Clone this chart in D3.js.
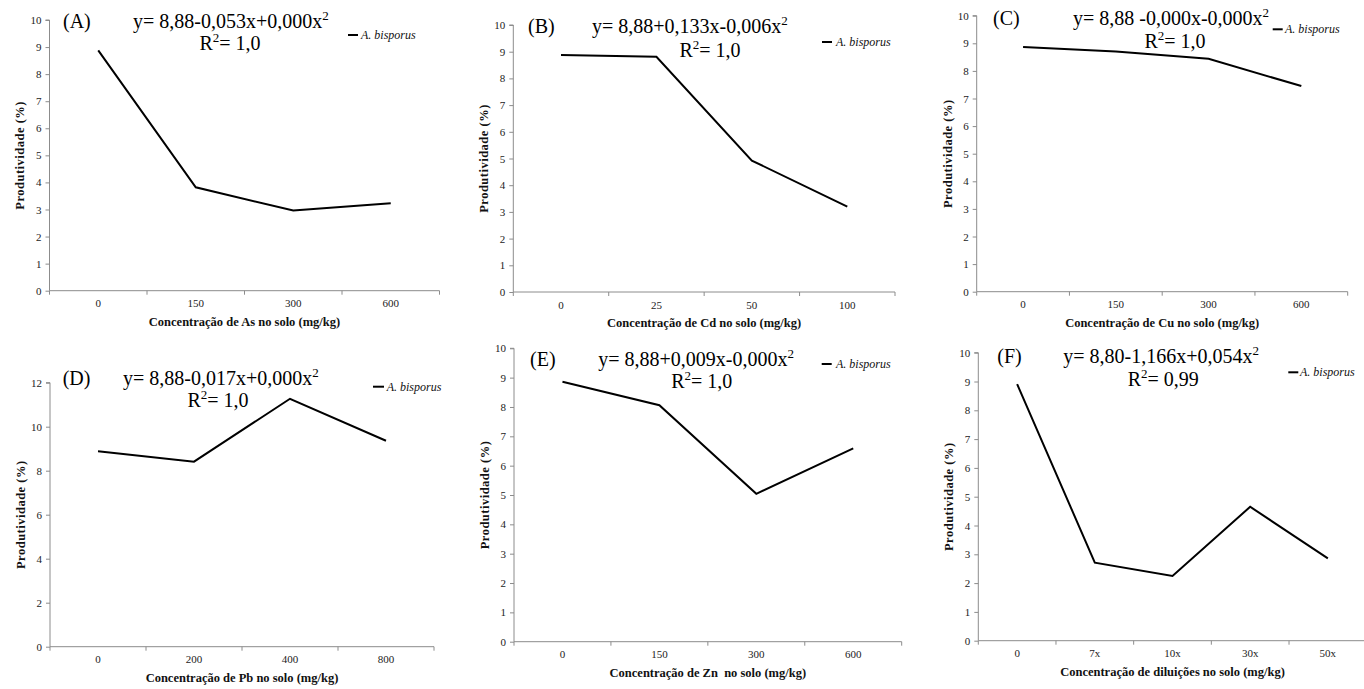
<!DOCTYPE html>
<html><head><meta charset="utf-8">
<script src="https://cdn.jsdelivr.net/npm/d3@7"></script>
<style>
html,body{margin:0;padding:0;background:#fff;}
svg{display:block;}
</style></head>
<body>
<svg id="chart" width="1364" height="689"></svg>
<script>
// ---- data ----
const categoriesA = ["0","150","300","600"];
const valuesA = [8.88, 3.82, 2.96, 3.23];
const categoriesB = ["0","25","50","100"];
const valuesB = [8.88, 8.81, 4.92, 3.20];
const categoriesC = ["0","150","300","600"];
const valuesC = [8.87, 8.70, 8.44, 7.45];
const categoriesD = ["0","200","400","800"];
const valuesD = [8.88, 8.41, 11.27, 9.36];
const categoriesE = ["0","150","300","600"];
const valuesE = [8.86, 8.06, 5.04, 6.59];
const categoriesF = ["0","7x","10x","30x","50x"];
const valuesF = [8.91, 2.71, 2.25, 4.65, 2.86];

const yMaxes = [10, 10, 10, 12, 10, 10];
const yStepsList = [1, 1, 1, 2, 1, 1];
const panelLabels = ["(A)","(B)","(C)","(D)","(E)","(F)"];
const equations = [
  "y= 8,88-0,053x+0,000x",
  "y= 8,88+0,133x-0,006x",
  "y= 8,88 -0,000x-0,000x",
  "y= 8,88-0,017x+0,000x",
  "y= 8,88+0,009x-0,000x",
  "y= 8,80-1,166x+0,054x"
];
const r2Values = ["= 1,0","= 1,0","= 1,0","= 1,0","= 1,0","= 0,99"];
const xTitles = [
  "Concentração de As no solo (mg/kg)",
  "Concentração de Cd no solo (mg/kg)",
  "Concentração de Cu no solo (mg/kg)",
  "Concentração de Pb no solo (mg/kg)",
  "Concentração de Zn  no solo (mg/kg)",
  "Concentração de diluições no solo (mg/kg)"
];
const yTitle = "Produtividade (%)";
const seriesName = "A. bisporus";

// ---- layout (positions only) ----
const layout = [
  {l:49.5, r:439.5, t:20,   b:290.7, lab:[63,28.3],   eq:[133,28.3],  r2:[230,50],    lg:[348,358,35,361,39]},
  {l:513.3,r:895,   t:25,   b:292,   lab:[528,33],    eq:[592,33],    r2:[710,57],    lg:[822,832,42,836,46]},
  {l:976.7,r:1347.7,t:15.7, b:291.7, lab:[993,25],    eq:[1073,25],   r2:[1175,47.7], lg:[1272.7,1282.7,29.3,1285,32.5]},
  {l:50,   r:434,   t:382.7,b:646.7, lab:[62.7,385],  eq:[123,385],   r2:[218,406.7], lg:[373,384,386.7,386.7,390.5]},
  {l:514,  r:901.7, t:348.3,b:641.7, lab:[530,366],   eq:[598.3,366], r2:[701.7,388.3],lg:[821.7,831.7,364,836,368]},
  {l:978.3,r:1366.7,t:352.7,b:640.7, lab:[997.3,363.3],eq:[1063.3,363.3],r2:[1163.3,386],lg:[1288.3,1298.3,372.3,1300,376]}
];

const cats = [categoriesA,categoriesB,categoriesC,categoriesD,categoriesE,categoriesF];
const vals = [valuesA,valuesB,valuesC,valuesD,valuesE,valuesF];

const SERIF = "Liberation Serif";
const svg = d3.select("#chart");
const axisColor = "#8c8c8c";

layout.forEach((L, i) => {
  const g = svg.append("g");
  const x = d3.scaleBand().domain(cats[i]).range([L.l, L.r]).paddingInner(0).paddingOuter(0);
  const y = d3.scaleLinear().domain([0, yMaxes[i]]).range([L.b, L.t]);

  // y axis
  const yAxis = d3.axisLeft(y)
    .tickValues(d3.range(0, yMaxes[i] + 0.001, yStepsList[i]))
    .tickSize(4).tickPadding(4).tickFormat(d3.format("d"));
  const ya = g.append("g").attr("transform", `translate(${L.l},0)`).call(yAxis)
    .attr("font-family", null).attr("font-size", null);
  ya.select(".domain").attr("stroke", axisColor).attr("d", `M-4,${L.t}H0V${L.b}`);
  ya.selectAll(".tick line").attr("stroke", axisColor);
  ya.selectAll(".tick text").attr("fill", "#222")
    .style("font-family", SERIF).style("font-size", "11px");

  // x axis (labels)
  const xAxis = d3.axisBottom(x).tickSize(0).tickPadding(9);
  const xa = g.append("g").attr("transform", `translate(0,${L.b})`).call(xAxis)
    .attr("font-family", null).attr("font-size", null);
  xa.select(".domain").attr("stroke", axisColor).attr("d", `M${L.l},0H${L.r}`);
  xa.selectAll(".tick text").attr("fill", "#222")
    .style("font-family", SERIF).style("font-size", "11px");
  // x tick marks at band boundaries
  const bounds = cats[i].map(c => x(c)).concat([x(cats[i][cats[i].length-1]) + x.bandwidth()]);
  g.selectAll(".xb").data(bounds).enter().append("line")
    .attr("x1", d => d).attr("x2", d => d)
    .attr("y1", L.b).attr("y2", L.b + 4)
    .attr("stroke", axisColor).attr("stroke-width", 1);

  // line
  const line = d3.line()
    .x((d, j) => x(cats[i][j]) + x.bandwidth() / 2)
    .y(d => y(d));
  g.append("path").datum(vals[i]).attr("d", line)
    .attr("fill", "none").attr("stroke", "#000").attr("stroke-width", 2)
    .attr("stroke-linejoin", "miter");

  // axis titles
  g.append("text").attr("x", (L.l + L.r) / 2).attr("y", L.b + 32)
    .attr("text-anchor", "middle").attr("dominant-baseline", "middle")
    .style("font-family", SERIF).style("font-size", "12.5px").style("font-weight", "bold")
    .style("white-space", "pre")
    .attr("fill", "#111")
    .text(xTitles[i]);
  g.append("text")
    .attr("transform", `translate(${L.l - 28},${(L.t + L.b) / 2}) rotate(-90)`)
    .attr("text-anchor", "middle").attr("dominant-baseline", "middle")
    .style("font-family", SERIF).style("font-size", "12.5px").style("font-weight", "bold")
    .style("letter-spacing", "0.5px").attr("fill", "#111")
    .text(yTitle);

  // panel label
  g.append("text").attr("x", L.lab[0]).attr("y", L.lab[1])
    .style("font-family", SERIF).style("font-size", "20px").attr("fill", "#000")
    .text(panelLabels[i]);

  // equation
  const eq = g.append("text").attr("x", L.eq[0]).attr("y", L.eq[1])
    .style("font-family", SERIF).style("font-size", "20px").attr("fill", "#000");
  eq.append("tspan").text(equations[i]);
  eq.append("tspan").attr("dy", -8).style("font-size", "13px").text("2");

  // R2
  const r2 = g.append("text").attr("x", L.r2[0]).attr("y", L.r2[1])
    .attr("text-anchor", "middle")
    .style("font-family", SERIF).style("font-size", "20px").attr("fill", "#000");
  r2.append("tspan").text("R");
  r2.append("tspan").attr("dy", -8).style("font-size", "13px").text("2");
  r2.append("tspan").attr("dy", 8).text(r2Values[i]);

  // legend
  g.append("line").attr("x1", L.lg[0]).attr("x2", L.lg[1])
    .attr("y1", L.lg[2]).attr("y2", L.lg[2])
    .attr("stroke", "#000").attr("stroke-width", 2);
  g.append("text").attr("x", L.lg[3]).attr("y", L.lg[4])
    .style("font-family", SERIF).style("font-size", "12px").style("font-style", "italic")
    .attr("fill", "#111")
    .text(seriesName);
});
</script>
</body></html>
